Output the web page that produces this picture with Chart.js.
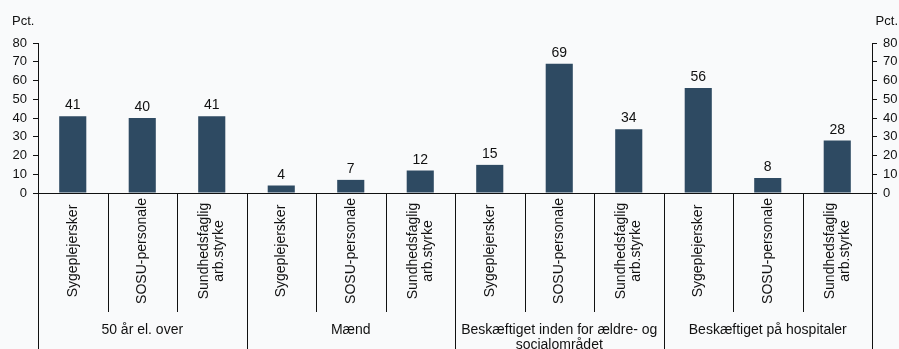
<!DOCTYPE html>
<html>
<head>
<meta charset="utf-8">
<script src="https://cdn.jsdelivr.net/npm/chart.js@4/dist/chart.umd.min.js"></script>
<style>
  html, body { margin: 0; padding: 0; background: #f9fafb; }
  #wrap { width: 899px; height: 349px; position: relative; }
</style>
</head>
<body>
<div id="wrap"><canvas id="c"></canvas></div>
<script>
// Occupational categories (repeated per group), multi-line where wrapped
const categories = [
  ["Sygeplejersker"], ["SOSU-personale"], ["Sundhedsfaglig", "arb.styrke"],
  ["Sygeplejersker"], ["SOSU-personale"], ["Sundhedsfaglig", "arb.styrke"],
  ["Sygeplejersker"], ["SOSU-personale"], ["Sundhedsfaglig", "arb.styrke"],
  ["Sygeplejersker"], ["SOSU-personale"], ["Sundhedsfaglig", "arb.styrke"]
];
// Group headings below the categories
const groups = [
  ["50 år el. over"],
  ["Mænd"],
  ["Beskæftiget inden for ældre- og", "socialområdet"],
  ["Beskæftiget på hospitaler"]
];
const groupSize = 3;
// Shares in percent
const values = [41, 40, 41, 4, 7, 12, 15, 69, 34, 56, 8, 28];
// Value axis
const yMin = 0, yMax = 80, yStep = 10;
const unitLabel = "Pct.";

const FONT = '"Liberation Sans", Arial, sans-serif';
const INK = '#111';
const BAR = '#2e4a62';

const annotate = {
  id: 'annotate',
  afterDraw(chart) {
    const { ctx, chartArea, scales } = chart;
    const xs = scales.x;
    const n = categories.length;
    const step = (chartArea.right - chartArea.left) / n;
    const base = chartArea.bottom;
    const H = chart.height;

    ctx.save();
    ctx.strokeStyle = INK;
    ctx.lineWidth = 1;
    // separators between categories and between groups
    for (let i = 0; i <= n; i++) {
      const x = Math.round(chartArea.left + i * step) + 0.5;
      const isGroup = i % groupSize === 0;
      ctx.beginPath();
      ctx.moveTo(x, base);
      ctx.lineTo(x, isGroup ? H : 312);
      ctx.stroke();
    }

    ctx.fillStyle = INK;
    ctx.font = '14px ' + FONT;

    // rotated category labels
    const lh = 15;
    categories.forEach((lines, i) => {
      const cx = xs.getPixelForValue(i);
      ctx.save();
      ctx.translate(cx, 251);
      ctx.rotate(-Math.PI / 2);
      ctx.textAlign = 'center';
      ctx.textBaseline = 'middle';
      lines.forEach((t, k) => {
        const off = (k - (lines.length - 1) / 2) * lh;
        ctx.fillText(t, 0, off);
      });
      ctx.restore();
    });

    // group headings
    ctx.textAlign = 'center';
    ctx.textBaseline = 'middle';
    groups.forEach((lines, g) => {
      const x0 = chartArea.left + g * groupSize * step;
      const cx = x0 + groupSize * step / 2;
      lines.forEach((t, k) => ctx.fillText(t, cx, 330 + k * lh));
    });

    // value labels above bars
    const meta = chart.getDatasetMeta(0);
    ctx.textBaseline = 'alphabetic';
    meta.data.forEach((bar, i) => {
      ctx.fillText(String(values[i]), bar.x, bar.y - 7);
    });

    // unit labels above both value axes
    ctx.font = '13px ' + FONT;
    ctx.textAlign = 'left';
    ctx.fillText(unitLabel, 12, 25);
    ctx.textAlign = 'right';
    ctx.fillText(unitLabel, 898, 25);
    ctx.restore();
  }
};

const yAxis = (pos, w) => ({
  type: 'linear',
  position: pos,
  min: yMin,
  max: yMax,
  afterFit: s => { s.width = w; },
  ticks: { stepSize: yStep, color: INK, padding: 6, font: { family: FONT, size: 13 } },
  grid: { drawOnChartArea: false, drawTicks: true, tickLength: 5, color: INK },
  border: { display: true, color: INK, width: 1 }
});

new Chart(document.getElementById('c'), {
  type: 'bar',
  data: {
    labels: categories,
    datasets: [{
      data: values,
      backgroundColor: BAR,
      borderWidth: 0,
      categoryPercentage: 1,
      barPercentage: 0.39,
      yAxisID: 'y'
    }]
  },
  options: {
    responsive: true,
    maintainAspectRatio: false,
    animation: false,
    layout: { padding: { top: 43, left: 0, right: 0, bottom: 0 } },
    plugins: { legend: { display: false }, tooltip: { enabled: false } },
    scales: {
      x: {
        afterFit: s => { s.height = 156; },
        ticks: { display: false },
        grid: { display: false },
        border: { display: true, color: INK, width: 1 }
      },
      y: yAxis('left', 38),
      y2: yAxis('right', 27)
    }
  },
  plugins: [annotate]
});
</script>
</body>
</html>
